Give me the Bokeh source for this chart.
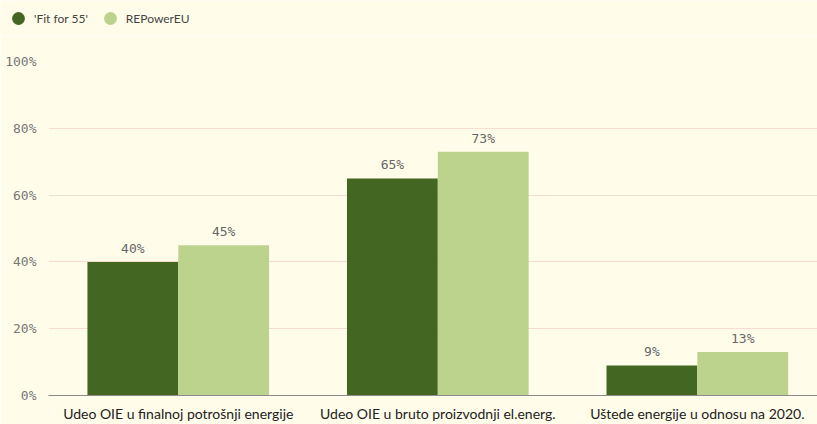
from bokeh.plotting import figure
from bokeh.layouts import column
from bokeh.models import (ColumnDataSource, Range1d, FixedTicker, PrintfTickFormatter,
                          Legend, LegendItem)
from bokeh.transform import dodge
from bokeh.core.properties import value
from bokeh.embed import file_html
from bokeh.resources import INLINE

# ---- data ----
categories = [
    "Udeo OIE u finalnoj potrošnji energije",
    "Udeo OIE u bruto proizvodnji el.energ.",
    "Uštede energije u odnosu na 2020.",
]
series_names = ["'Fit for 55'", "REPowerEU"]
fit_for_55 = [40, 65, 9]
repower_eu = [45, 73, 13]
y_ticks = [0, 20, 40, 60, 80, 100]

# ---- styles ----
DARK = "#436622"
LIGHT = "#BBD38D"
BG = "#FFFDEA"
GRID = "#F6DDD0"
BAR_W = 0.35
W = 817
LEG_H = 36

pos = [i + 0.5 for i in range(len(categories))]
src = ColumnDataSource(dict(
    pos=pos,
    fit=fit_for_55,
    rep=repower_eu,
    fit_lbl=[f"{v}%" for v in fit_for_55],
    rep_lbl=[f"{v}%" for v in repower_eu],
))

# ---- legend strip ----
lf = figure(width=W, height=LEG_H, x_range=Range1d(0, 1), y_range=Range1d(0, 1),
            output_backend="svg", toolbar_location=None,
            x_axis_location=None, y_axis_location=None,
            min_border_left=0, min_border_right=0, min_border_top=0, min_border_bottom=0,
            background_fill_color=BG, border_fill_color=BG, outline_line_color=None)
lf.xgrid.visible = False
lf.ygrid.visible = False
r1 = lf.scatter(x="pos", y="fit", source=src, marker="circle", size=13,
                fill_color=DARK, line_color=None, visible=False)
r2 = lf.scatter(x="pos", y="rep", source=src, marker="circle", size=13,
                fill_color=LIGHT, line_color=None, visible=False)
legend = Legend(items=[LegendItem(label=series_names[0], renderers=[r1]),
                       LegendItem(label=series_names[1], renderers=[r2])],
                orientation="horizontal", location=(2, 2),
                glyph_width=32, glyph_height=32, label_standoff=-2,
                spacing=6, padding=0, margin=0,
                background_fill_alpha=0, border_line_color=None,
                label_text_font="Lato", label_text_font_size="12px",
                label_text_color="#444444")
lf.add_layout(legend)

# ---- main chart ----
p = figure(width=W, height=424 - LEG_H,
           x_range=Range1d(0, 2.963), y_range=Range1d(0, 100),
           output_backend="svg", toolbar_location=None,
           min_border_left=48, min_border_right=0,
           min_border_top=61 - LEG_H, min_border_bottom=28,
           background_fill_color=BG, border_fill_color=BG,
           outline_line_color=None)

p.vbar(x=dodge("pos", -BAR_W / 2), top="fit", width=BAR_W, source=src,
       fill_color=DARK, line_color=None)
p.vbar(x=dodge("pos", BAR_W / 2), top="rep", width=BAR_W, source=src,
       fill_color=LIGHT, line_color=None)

lbl_kw = dict(text_align="center", text_baseline="bottom", y_offset=-6,
              text_font=value("DejaVu Sans Mono"), text_font_size="13px",
              text_color="#666666", source=src)
p.text(x=dodge("pos", -BAR_W / 2), y="fit", text="fit_lbl", **lbl_kw)
p.text(x=dodge("pos", BAR_W / 2), y="rep", text="rep_lbl", **lbl_kw)

# axes
p.xaxis.ticker = FixedTicker(ticks=pos)
p.xaxis.major_label_overrides = {pv: c for pv, c in zip(pos, categories)}
p.xaxis.major_tick_line_color = None
p.xaxis.minor_tick_line_color = None
p.xaxis.axis_line_color = "#8c8c8c"
p.xaxis.major_label_text_font = "Lato"
p.xaxis.major_label_text_font_size = "14px"
p.xaxis.major_label_text_color = "#222222"
p.xaxis.major_label_standoff = 3

p.yaxis.ticker = FixedTicker(ticks=y_ticks)
p.yaxis.formatter = PrintfTickFormatter(format="%d%%")
p.yaxis.axis_line_color = None
p.yaxis.major_tick_line_color = None
p.yaxis.minor_tick_line_color = None
p.yaxis.major_label_text_font = "DejaVu Sans Mono"
p.yaxis.major_label_text_font_size = "13px"
p.yaxis.major_label_text_color = "#777777"
p.yaxis.major_label_standoff = 6

p.xgrid.visible = False
p.ygrid.grid_line_color = GRID
p.ygrid.grid_line_width = 1

# nest the legend strip so its frame is not aligned with the chart's frame
layout = column(column(lf, spacing=0), p, spacing=0)
open("out.html", "w").write(file_html(layout, INLINE))
